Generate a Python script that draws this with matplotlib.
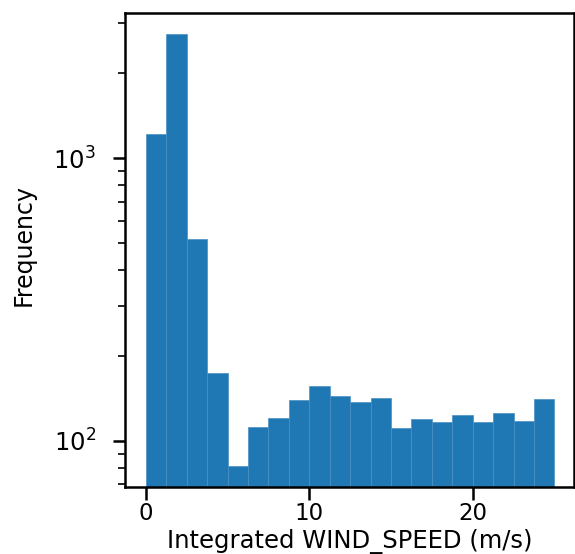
import numpy as np
import matplotlib
matplotlib.use('Agg')
import matplotlib.pyplot as plt

# histogram of integrated wind speed, 20 bins between 0 and 25 m/s
bin_edges = np.linspace(0, 25, 21)
counts = [1216, 2746, 517, 174, 81, 112, 120, 139, 156, 144,
          137, 142, 111, 119, 116, 123, 116, 125, 117, 140]

centers = (bin_edges[:-1] + bin_edges[1:]) / 2

fig = plt.figure(figsize=(5.75, 5.54), dpi=100)
ax = fig.add_axes([125 / 575, 1 - 487 / 554, 449 / 575, 474 / 554])

ax.hist(centers, bins=bin_edges, weights=counts, log=True,
        color='#1f77b4', edgecolor='#4a8fc4', linewidth=0.5)

ax.set_xlim(-1.28, 26.2)
ax.set_ylim(68.5, 3260)
ax.set_xticks([0, 10, 20])

ax.set_xlabel('Integrated WIND_SPEED (m/s)', fontsize=17.5)
ax.xaxis.label.set_va('baseline')
ax.xaxis.set_label_coords(0.5, -0.1285)
ax.set_ylabel('Frequency', fontsize=17)
ax.yaxis.label.set_va('center')
ax.yaxis.set_label_coords(-0.225, 0.51)

ax.tick_params(axis='both', which='major', labelsize=17.5, length=9, width=1.8)
ax.tick_params(axis='y', which='major', pad=12)
ax.tick_params(axis='x', which='major', pad=1.5, labelsize=16.5)
ax.tick_params(axis='both', which='minor', length=5, width=1.2)
for s in ax.spines.values():
    s.set_linewidth(1.8)

fig.savefig('out.png', dpi=100)
